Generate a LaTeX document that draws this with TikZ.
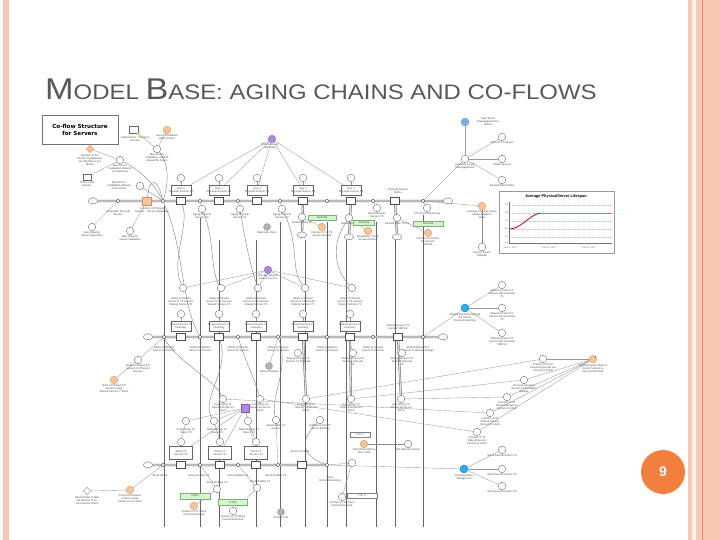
\documentclass[tikz,border=0pt]{standalone}
\usepackage{fontspec}
\setmainfont{Liberation Sans}
\newfontfamily\dvs{DejaVu Sans}
\usetikzlibrary{shapes.symbols,shapes.geometric,backgrounds}
\definecolor{peach}{RGB}{247,199,178}
\definecolor{peachdk}{RGB}{228,145,105}
\definecolor{cream}{RGB}{253,244,236}
\definecolor{titlegray}{RGB}{88,88,88}
\definecolor{orfill}{RGB}{248,196,150}
\definecolor{ordraw}{RGB}{210,145,95}
\definecolor{purfill}{RGB}{175,135,225}
\definecolor{purdraw}{RGB}{130,90,190}
\definecolor{cyanfill}{RGB}{40,175,235}
\definecolor{cyandraw}{RGB}{20,125,185}
\definecolor{lbluefill}{RGB}{120,175,235}
\definecolor{numor}{RGB}{241,128,62}
\definecolor{grnfill}{RGB}{212,245,205}
\definecolor{grndraw}{RGB}{120,180,110}
\newcommand\tinyf{\fontsize{2.7}{3.0}\selectfont}
\tikzset{
  auxc/.style={circle, draw=black!55, fill=white, line width=0.4pt, minimum size=7.5pt, inner sep=0},
  stk/.style={rectangle, draw=black!70, fill=white, line width=0.5pt, minimum width=9pt, minimum height=7pt, inner sep=0},
  vbox/.style={rectangle, draw=black!60, fill=white, line width=0.4pt, minimum width=20pt, minimum height=10pt, inner sep=0},
  vlv/.style={circle, draw=black!75, fill=white, line width=0.4pt, minimum size=3.8pt, inner sep=0},
  lbl/.style={font=\tinyf, text=black!70, align=center, inner sep=0.2pt},
  pipe/.style={draw=black!55, line width=0.55pt, double=black!12, double distance=1.1pt},
  ln/.style={draw=black!40, line width=0.35pt},
  lnd/.style={draw=black!60, line width=0.45pt},
  crv/.style={draw=black!50, line width=0.4pt},
  cld/.style={cloud, cloud puffs=7, draw=black!55, fill=white, minimum width=9.5pt, minimum height=7pt, inner sep=0, line width=0.4pt},
  grn/.style={rectangle, fill=grnfill, draw=grndraw, line width=0.3pt, minimum width=28pt, minimum height=5pt, inner sep=0, font=\tinyf, text=black!70},
  wbx/.style={rectangle, fill=white, draw=black!50, line width=0.3pt, minimum height=5pt, inner sep=0, font=\tinyf, text=black!60},
  org/.style={circle, fill=orfill, draw=ordraw, line width=0.35pt, minimum size=7.5pt, inner sep=0},
  pur/.style={circle, fill=purfill, draw=purdraw, line width=0.35pt, minimum size=7.5pt, inner sep=0},
  cyn/.style={circle, fill=cyanfill, draw=cyandraw, line width=0.35pt, minimum size=8pt, inner sep=0},
  gry/.style={circle, fill=black!30, draw=black!40, minimum size=7pt, inner sep=0}
}
\newcommand\Lnode[4]{\node[#1] (#2) at (#3) {};\node[lbl,anchor=north] (#2l) at ([yshift=-0.5pt]#2.south) {#4};}
\newcommand\Stk[5]{\node[stk] (#1) at (#2,#3) {};\node[vbox,#5] (#1b) at (#2,#3-11) {};\node[lbl] (#1t) at (#1b) {#4};\node[auxc] (#1c) at (#2,#3-23) {};}
\begin{document}
\begin{tikzpicture}[x=1pt,y=-1pt]
\useasboundingbox (0,0) rectangle (720,540);
\begin{pgfonlayer}{background}
\fill[white] (0,0) rectangle (720,540);
\fill[peach] (3,0) rectangle (9,540);
\fill[peach] (688,0) rectangle (692,540);
\fill[cream] (692,0) rectangle (696,540);
\fill[peach] (696,0) rectangle (702,540);
\fill[peachdk] (702,0) rectangle (703.2,540);
\fill[peach] (703.2,0) rectangle (720,540);
\end{pgfonlayer}

% ---------- title
\node[anchor=base west, inner sep=0, text=titlegray] (title) at (45,100) {\scalebox{1.14}[1]{\fontsize{30}{30}\selectfont M\fontsize{21}{21}\selectfont ODEL \fontsize{30}{30}\selectfont B\fontsize{21}{21}\selectfont ASE: AGING CHAINS AND CO-FLOWS}};

% ---------- co-flow title box
\node[draw=black!55, fill=white, line width=0.5pt, minimum width=76pt, minimum height=29pt, align=center, inner sep=1pt, font=\dvs\fontsize{5.6}{6.6}\selectfont\bfseries] (cotitle) at (80,130) {Co-flow Structure\\for Servers};

% ---------- top-left cluster
\node[rectangle, draw=black!60, fill=white, minimum width=9pt, minimum height=7pt, inner sep=0] (isrv) at (134,130) {};
\node[circle, fill=yellow!90!orange, minimum size=2.6pt, inner sep=0] (isrvdot) at (138,134) {};
\node[lbl] (isrvl) at (135,139.5) {Initial Server~~~Physical\\Servers};
\Lnode{org}{ophs}{167,130}{Server Installation\\Rate Servers}
\Lnode{auxc}{mxfig}{157,149}{Max Server\\Installation allowed\\allowed by Figure}
\node[diamond, fill=orfill, draw=ordraw, minimum size=7.5pt, inner sep=0] (nsrv) at (90,149) {};
\node[lbl, anchor=north] (nsrvl) at (90,154) {Number of the\\Servers Installed per\\per Workforce per\\Month};
\Lnode{auxc}{mxins}{120,160}{Max Server\\Installation allowed\\on inspecting}
\node[rectangle, draw=black!60, fill=white, minimum width=8pt, minimum height=6pt, inner sep=0] (tadd) at (87,177) {};
\node[lbl, anchor=north] (taddl) at (87,181) {Time to add\\Servers};
\node[auxc] (mxinv) at (140,186) {};
\node[lbl] (mxinvl) at (119,186) {Max Server\\Installation allowed\\to Inventory};
\Lnode{auxc}{ncap}{92,227}{New Capacity\\Server Acquisition}
\Lnode{auxc}{nins}{130,231}{New capacity\\server installation}

% ---------- row 1
\node[cld] (c1a) at (93,201) {};
\node[vlv] (v1a) at (118,201) {};
\node[lbl] (v1al) at (118,213) {Acquisition Physical\\Servers};
\node[rectangle, fill=orfill, draw=ordraw, minimum width=9pt, minimum height=8pt, inner sep=0] (s1o) at (147,201) {};
\node[lbl] (s1ol) at (152,210) {Inventory of Physical\\Servers~~~~Server Installation};
\node[vlv] (v1b) at (163,201) {};
\Stk{s11}{181}{201}{Year 0\\Physical Servers Y0}{}
\Stk{s12}{219}{201}{Year 1\\Physical Servers Y1}{}
\Stk{s13}{257}{201}{Year 2\\Physical Servers Y2}{}
\Stk{s14}{303}{201}{Year 3\\Physical Servers Y3}{}
\Stk{s15}{351}{201}{Year 4\\Physical Servers Y4}{}
\node[stk] (s16) at (395,201) {};
\node[lbl] (s16l) at (398,191) {Physical Servers\\Online};
\foreach \n/\x in {c/200,d/238,e/280,f/327,g/373,h/423} \node[vlv] (v1\n) at (\x,201) {};
\node[cld] (c1b) at (448,201) {};
\Lnode{auxc}{ag10}{202,209}{Aging Physical\\Servers Y0}
\Lnode{auxc}{ag11}{240,209}{Aging Physical\\Servers Y1}
\Lnode{auxc}{ag12}{282,209}{Aging Physical\\Servers Y2}
\Lnode{auxc}{ag15}{377,208}{Recommission\\Servers Y5}
\Lnode{auxc}{ag16}{427,208}{PS Decommissioning}
\Lnode{auxc}{dr4}{302,217}{Desired Rate Y4}
\Lnode{auxc}{dr5}{349,218}{Desired Rate}
\Lnode{auxc}{dr6}{397,218}{Desired Rate Y5 PS}
\node[cld] (dc4) at (302,235) {};
\node[cld] (dc5) at (349,237) {};
\node[cld] (dc6) at (397,237) {};
\Lnode{gry}{gy1}{267,227}{Maximum Years}
\node[grn] (gb1) at (322,218) {Set Rate};
\node[grn, minimum width=21pt] (gb2) at (364,223) {Set Rate};
\node[grn, minimum width=30pt] (gb3) at (428,224) {Set Rate};
\Lnode{org}{oc1}{322,227}{Fraction of Y4 PS\\Servers Retired}
\Lnode{org}{oc2}{368,231}{Breakdown Y5 PS\\Servers Retired}
\Lnode{org}{oc3}{428,233}{Fraction of PS Rho\\PS Servers\\Retired}
\node[pur] (p1) at (272,139) {};
\node[lbl, anchor=north] (p1l) at (270,143.5) {PS Lifetime by\\Age Data};

% ---------- top right cluster
\node[circle, fill=lbluefill, draw=black!40, minimum size=8pt, inner sep=0] (bl1) at (465,122) {};
\node[lbl] (bl1l) at (488,122) {User Server\\Disengagement to\\Server};
\Lnode{auxc}{hub1}{465,159}{Available Server\\Disengagement}
\Lnode{auxc}{tr1}{502,137}{Percent in Use Set}
\Lnode{auxc}{tr2}{502,159}{Usable Servers}
\Lnode{auxc}{tr3}{502,180}{Desired Rate Profile}
\Lnode{org}{oc4}{482,206}{Average Physical Server\\Lifespan Data in\\Years}
\Lnode{auxc}{avl}{482,247}{Avg PS Server\\Lifespan}

% ---------- chart
\node[draw=black!40, fill=white, line width=0.4pt, minimum width=115pt, minimum height=62pt, inner sep=0] (chart) at (556.5,222) {};
\node[font=\fontsize{3.9}{4.5}\selectfont\bfseries, inner sep=0] (ctitle) at (556,197) {Average PhysicalServer Lifespan};
\foreach \i/\y/\t in {1/205/6.0,2/213/5.5,3/221/5.0,4/229/4.5,5/237/4.0,6/243/3.5} {
  \coordinate (gl\i) at (509,\y); \coordinate (gr\i) at (612,\y);
  \draw[black!20, line width=0.25pt, densely dotted] (gl\i) -- (gr\i);
  \node[font=\fontsize{2.2}{2.5}\selectfont, text=black!60, anchor=east, inner sep=0.6pt] (yt\i) at (gl\i) {\t};
}
\coordinate (axo) at (509,243); \coordinate (axx) at (612,243); \coordinate (axy) at (509,202);
\draw[black!55, line width=0.3pt] (axy) -- (axo) -- (axx);
\node[font=\fontsize{2.3}{2.6}\selectfont, text=black!60, inner sep=0] (xt1) at (510,248) {Jan 01, 2017};
\node[font=\fontsize{2.3}{2.6}\selectfont, text=black!60, inner sep=0] (xt2) at (549,248) {Jan 01, 2022};
\node[font=\fontsize{2.3}{2.6}\selectfont, text=black!60, inner sep=0] (xt3) at (589,248) {Jan 01, 2027};
\coordinate (cp0) at (510,229); \coordinate (cp1) at (540,213); \coordinate (cp2) at (612,213);
\draw[red!75!black, line width=0.8pt] (cp0) .. controls (522,228) and (528,216) .. (cp1);
\draw[red!60, line width=0.3pt] (cp1) -- (cp2);

% ---------- row 2
\node[cld] (c2a) at (148,337) {};
\node[vlv] (v2a) at (164,337) {};
\Stk{s21}{181}{337}{Shared servers Y0\\Inventory}{}
\Stk{s22}{219}{337}{Shared servers Y1\\Inventory}{}
\Stk{s23}{256}{337}{Shared servers Y2\\Inventory}{}
\Stk{s24}{303}{337}{Shared servers Y3\\Inventory}{}
\Stk{s25}{350}{337}{Shared servers Y4\\Inventory}{}
\node[stk] (s26) at (398,337) {};
\node[lbl] (s26l) at (398,327) {Shared servers PS\\Servers VMPool};
\foreach \n/\x in {b/200,c/238,d/278,e/327,f/373,g/423} \node[vlv] (v2\n) at (\x,337) {};
\node[cld] (c2b) at (443,337) {};
\foreach \n/\x/\k in {a/164/0,b/200/1,c/238/2,d/278/3,e/327/4,f/373/5} \node[lbl] (v2\n l) at (\x,349) {Inflow to Shared\\Server Y\k\ Servers};
\node[lbl] (v2gl) at (418,349) {Shared Retired PS\\Servers to Shared Storage};
\foreach \n/\x/\k in {1/181/0,2/219/1,3/256/2,4/303/3,5/350/4} {
  \node[auxc] (r2t\n) at (\x+2,288) {};
  \node[lbl] (r2l\n) at (\x,302) {Inflow of Shared\\Server to Y\k\ Servers\\Shared Servers Y\k};
}
\Lnode{auxc}{sd4}{298,353}{Shared servers PS\\Servers Y3 Disposal}
\Lnode{auxc}{sd5}{353,353}{Shared servers PS\\Servers Disposal\\Y4}
\Lnode{auxc}{sd6}{402,353}{Shared servers PS\\Servers Disposal\\Y5}
\Lnode{gry}{gy2}{269,366}{Retired Shared}
\node[pur] (p2) at (268,270) {};
\node[lbl, anchor=north] (p2l) at (268,274.5) {Average Shared\\Servers Per PS};
\Lnode{auxc}{lr2a}{138,360}{Ratio of Shared PS\\Servers to Physical\\Servers}
\Lnode{org}{lr2b}{114,380}{Ratio of Shared PS\\Servers Using\\Shared Servers Y Stock}
\node[cyn] (b2) at (465,308) {};
\node[lbl, anchor=north] (b2l) at (465,313) {Shared Decommissioning\\PS Server\\Decommissioning};
\Lnode{auxc}{m1}{502,285}{Shared servers PS\\Servers Reconnected\\Y1}
\Lnode{auxc}{m2}{502,308}{Shared servers PS\\Servers Reconnected\\Y5}
\Lnode{auxc}{m3}{502,333}{Shared servers PS\\Servers Reconnected\\VMPool}

% converting circles
\foreach \n/\x/\k in {1/223/1,2/260/2,3/306/3,4/351/4,5/401/5}
  \Lnode{auxc}{cv\n}{\x,399}{Converting Y\k\\Shared Servers to\\Stock}
\node[rectangle, fill=purfill, draw=purdraw, minimum size=7.5pt, inner sep=0] (p3) at (245,408) {};

% ---------- right fan
\node[org] (oc7) at (593,359) {};
\node[circle, fill=black!70, minimum size=1.5pt, inner sep=0] (oc7d) at (595,357) {};
\node[lbl, anchor=north] (oc7l) at (593,364) {Decommission Shared\\Server Servers to\\Convert Schedule};
\Lnode{auxc}{f1}{543,359}{Fraction of PS to\\Decommissioning use\\Convert to Stock}
\Lnode{auxc}{f2}{524,380}{Decommissioning\\Servers Converted to\\Storage}
\Lnode{auxc}{f3}{507,397}{Fraction of Y4\\Shared Servers to\\Convert to Stock}
\Lnode{auxc}{f4}{490,413}{Fraction of Y5\\Shared Servers\\Convert to Stock}
\Lnode{auxc}{f5}{477,432}{Fraction of Y6\\Shared Servers\\Convert to Stock}

% ---------- row 3
\node[cld] (c3a) at (148,465) {};
\node[vlv] (v3a) at (163,465) {};
\Stk{s31}{181}{465}{Stock Y0\\Servers Y0}{minimum width=23pt, minimum height=13pt, yshift=1pt}
\Stk{s32}{220}{465}{Stock Y1\\Servers Y1}{minimum width=23pt, minimum height=13pt, yshift=1pt}
\Stk{s33}{256}{465}{Stock Y2\\Servers Y2}{minimum width=23pt, minimum height=13pt, yshift=1pt}
\node[stk] (s34) at (302,465) {};
\node[lbl] (s34l) at (300,452) {Stock Y4 Inflow};
\foreach \n/\x in {b/200,c/238,d/278,e/327} \node[vlv] (v3\n) at (\x,465) {};
\node[lbl] (v3al) at (160,476) {Stock Inflow};
\node[lbl] (v3bl) at (199,476) {Stock Outflow Y1};
\node[lbl] (v3cl) at (238,476) {Stock Outflow Y2};
\node[lbl] (v3dl) at (276,476) {Stock Outflow Y3};
\foreach \n/\x in {1/186,2/214,3/248} {
  \node[auxc] (r3t\n) at (\x,421) {};
}
\node[lbl] (r3l1) at (186,431) {AvgStorage Y0\\Server Y0};
\node[lbl] (r3l2) at (217,431) {Shell Storage Y1\\Server Y1};
\node[lbl] (r3l3) at (249,431) {Shell Storage Y2\\Server Y2};
\node[auxc] (so1) at (217,489) {};
\node[auxc] (so2) at (257,488) {};
\node[lbl] (so1l) at (217,483) {Stock Outflow Y1};
\node[lbl] (so2l) at (260,482) {Stock Outflow Y2};
\node[grn, minimum width=30pt, minimum height=6pt] (gb4) at (195,496) {0.00\%};
\node[grn, minimum width=29pt, minimum height=6pt] (gb5) at (233,502.5) {0.00\%};
\Lnode{org}{oc5}{194,506}{Fraction of Y1 Stock\\Decommissioned}
\Lnode{auxc}{fy2}{233,511}{Fraction of Y2 Stock\\Decommissioned}
\Lnode{auxc}{ex4}{276,420}{Expandable Y4\\Servers}
\Lnode{auxc}{au5}{320,420}{Additional Unit Y5\\Server Shifting}
\node[wbx, minimum width=20pt] (wb1) at (360,435) {0.00 /s};
\Lnode{org}{oc6}{364,444}{Total Shell Lifetime\\Year 0 Old}
\Lnode{auxc}{dms}{408,444}{Disk Memory Server}
\node[auxc] (sdc) at (352,463) {};
\node[lbl] (sdcl) at (330,479) {Stock\\Decommissioning};
\Lnode{auxc}{fy4}{342,497}{Fraction of Y4 Stock\\Decommissioned}
\node[wbx, minimum width=30pt] (wb2) at (362,496) {0.00 \%};
\Lnode{gry}{gy3}{281,512}{Fraction Yet}
\node[diamond, draw=black!50, fill=white, minimum size=7.5pt, inner sep=0] (dm3) at (87,491) {};
\node[lbl, anchor=north] (dm3l) at (87,496) {Return Ratio of New\\PS Servers to be\\converted to Stock};
\Lnode{org}{lr3}{130,490}{SS Decommission\\Servers using\\Conversion to Stock}
\node[cyn] (b3) at (464,469) {};
\node[lbl, anchor=north] (b3l) at (464,474) {Decommission\\Storage Unit};
\Lnode{auxc}{n1}{502,450}{Stock Decommission Y4}
\Lnode{auxc}{n2}{502,469}{Stock Decommission Y5}
\Lnode{auxc}{n3}{502,486}{Stock Decommission Y6}

% ---------- slide number
\node[circle, fill=numor, minimum size=44pt, inner sep=0, text=white, font=\fontsize{14}{14}\selectfont\bfseries] (pnum) at (663,472) {9};

% ================= connectors (behind nodes)
\begin{pgfonlayer}{background}
\foreach \x/\ys in {164/206,200/218,219/240,256/240,280/222,305/240,327/222,346/240,376/222,395/240,423/215} {
  \coordinate (vt\x) at (\x,\ys); \coordinate (vb\x) at (\x,527);
  \draw[lnd] (vt\x) -- (vb\x);
}
\draw[pipe] (c1a) -- (c1b);
\draw[pipe] (c2a) -- (c2b);
\draw[pipe] (c3a) -- (v3e);
\draw[pipe] (s14) -- (dc4);
\draw[pipe] (s15) -- (dc5);
\draw[pipe] (s16) -- (dc6);
\draw[pipe] (s24) -- (cv3);
\draw[pipe] (s25) -- (cv4);
\draw[pipe] (s26) -- (cv5);
\draw[ln] (v3e) -- (b3);
\draw[ln] (nsrv) -- (mxins);
\draw[ln] (isrv) -- (mxfig);
\draw[ln] (ophs) -- (mxfig);
\draw[ln] (tadd) -- (mxins);
\draw[crv] (mxfig) .. controls (170,165) and (168,185) .. (v1b);
\draw[crv] (mxins) .. controls (140,170) and (155,185) .. (v1b);
\draw[crv] (mxinv) -- (v1b);
\draw[ln] (ncap) -- (v1a);
\draw[ln] (nins) -- (s1o);
\draw[crv] (s1o) .. controls (150,175) and (158,180) .. (v1b);
\foreach \s in {s11,s12,s13,s14,s15} \draw[ln] (\s c) -- (\s b);
\foreach \s in {s11b,s12b,s13b,s14b,s15b} \draw[ln] (p1) -- (\s);
\draw[ln] (ag10) -- (v1c); \draw[ln] (ag11) -- (v1d); \draw[ln] (ag12) -- (v1e);
\draw[ln] (ag15) -- (v1g); \draw[ln] (ag16) -- (v1h);
\draw[ln] (oc1) -- (dr4); \draw[ln] (oc2) -- (dr5); \draw[ln] (oc3) -- (dr6);
\draw[ln] (oc4) -- (v1h);
\draw[crv] (s11) .. controls (190,225) and (170,260) .. (r2t1);
\draw[crv] (ag10) .. controls (215,240) and (210,270) .. (r2t2);
\draw[crv] (ag11) .. controls (245,240) and (250,265) .. (r2t3);
\draw[crv] (ag12) .. controls (300,245) and (290,270) .. (r2t4);
\draw[crv] (dr5) .. controls (330,245) and (335,270) .. (r2t5);
\draw[crv] (v1b) .. controls (185,250) and (180,300) .. (v2b);
\draw[draw=black!40, line width=0.9pt] (bl1) -- (hub1);
\draw[ln] (hub1) -- (tr1); \draw[draw=black!40, line width=0.6pt] (hub1) -- (tr2); \draw[ln] (hub1) -- (tr3);
\draw[ln] (hub1) -- (v1h);
\draw[draw=black!45, line width=0.5pt] (oc4) -- (avl);
\foreach \s in {s21,s22,s23,s24,s25} \draw[ln] (\s c) -- (\s b);
\foreach \n in {1,2,3,4,5} \draw[ln] (p2) -- (r2t\n);
\draw[ln] (lr2a) -- (v2a); \draw[ln] (lr2b) -- (lr2a);
\draw[ln] (b2) -- (v2g);
\draw[ln] (b2) -- (m1); \draw[draw=black!40, line width=0.8pt] (b2) -- (m2); \draw[ln] (b2) -- (m3);
\draw[ln] (gy2) -- (v2d);
\draw[crv] (v2a) .. controls (175,360) and (215,380) .. (cv1);
\draw[crv] (v2c) .. controls (245,360) and (255,380) .. (cv2);
\draw[crv] (s22) .. controls (230,370) and (200,400) .. (r3t2);
\draw[crv] (v2d) .. controls (290,370) and (270,395) .. (ex4);
\foreach \f in {f1,f2,f3,f4,f5} \draw[ln] (oc7) -- (\f);
\draw[ln] (f1) -- (cv3);
\draw[ln] (f2) -- (cv4);
\draw[ln] (f3) -- (cv5);
\draw[ln] (f4) -- (cv1);
\draw[ln] (f5) -- (cv2);
\draw[ln] (p3) -- (r3t1); \draw[ln] (p3) -- (r3t2); \draw[ln] (p3) -- (r3t3);
\draw[ln] (p3) -- (s31b); \draw[ln] (p3) -- (s32b); \draw[ln] (p3) -- (s33b);
\foreach \s in {s31,s32,s33} \draw[ln] (\s c) -- (\s b);
\draw[ln] (r3t1) -- (s31c); \draw[ln] (r3t2) -- (s32c); \draw[ln] (r3t3) -- (s33c);
\draw[ln] (dm3) -- (lr3); \draw[ln] (lr3) -- (v3a);
\draw[ln] (so1) -- (v3b); \draw[ln] (so2) -- (v3c);
\draw[ln] (oc5) -- (so1); \draw[ln] (fy2) -- (so2);
\draw[crv] (au5) .. controls (300,440) and (300,455) .. (v3e);
\draw[draw=black!45, line width=0.5pt] (oc6) -- (dms);
\draw[ln] (sdc) -- (v3e); \draw[ln] (fy4) -- (sdc);
\draw[ln] (b3) -- (n1); \draw[draw=black!40, line width=0.8pt] (b3) -- (n2); \draw[ln] (b3) -- (n3);
\draw[ln] (ex4) -- (v3d);
\end{pgfonlayer}
\end{tikzpicture}
\end{document}
